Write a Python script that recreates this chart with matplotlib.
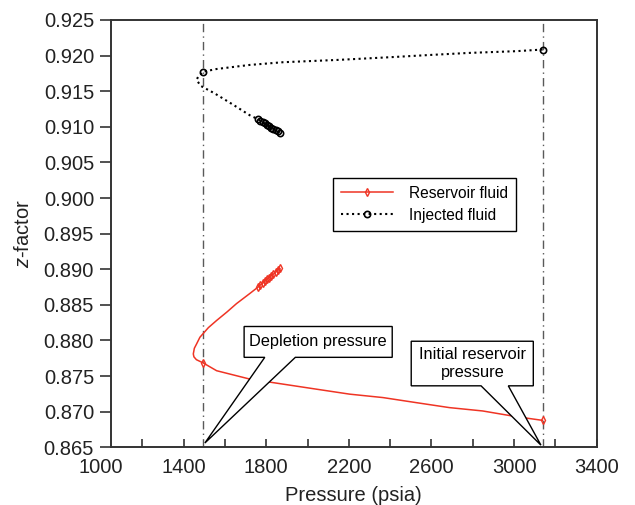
import matplotlib
matplotlib.use("Agg")
import matplotlib.pyplot as plt
from matplotlib.patches import Polygon
from matplotlib.lines import Line2D
import numpy as np

plt.rcParams['font.family'] = ['Liberation Sans', 'DejaVu Sans']
plt.rcParams['mathtext.fontset'] = 'custom'
plt.rcParams['mathtext.rm'] = 'Liberation Sans'
plt.rcParams['mathtext.it'] = 'Liberation Sans:italic'

# ---- data ----
res_p = [3138, 3010, 2848, 2687, 2526, 2365, 2204, 2043, 1881, 1720, 1560, 1495,
         1462, 1450, 1447, 1452, 1463, 1479, 1520, 1560, 1610, 1656, 1720,
         1761, 1772, 1783, 1793, 1803, 1814, 1824, 1835, 1845, 1856, 1866]
res_z = [0.86878, 0.86930, 0.87010, 0.87057, 0.87127, 0.87198, 0.87246, 0.87316, 0.87387,
         0.87458, 0.87575, 0.87684,
         0.87730, 0.87770, 0.87811, 0.87890, 0.87952, 0.88045, 0.88180, 0.88281, 0.88400,
         0.88517, 0.88658,
         0.88751, 0.88780, 0.88805, 0.88830, 0.88858, 0.88882, 0.88908, 0.88932, 0.88958,
         0.88985, 0.89011]
res_marks = [0, 11] + list(range(23, 34))

inj_p = [3138, 3010, 2784, 2600, 2397, 2150, 1881, 1720, 1560, 1495,
         1470, 1463, 1482, 1550, 1640, 1720,
         1761, 1772, 1783, 1793, 1803, 1814, 1824, 1835, 1845, 1856, 1866]
inj_z = [0.92085, 0.92062, 0.92038, 0.92010, 0.91977, 0.91940, 0.91907, 0.91869, 0.91812,
         0.91774,
         0.91700, 0.91661, 0.91576, 0.91470, 0.91310, 0.91163,
         0.91106, 0.91085, 0.91066, 0.91047, 0.91028, 0.91009, 0.90990, 0.90971, 0.90953,
         0.90935, 0.90918]
inj_marks = [0, 9] + list(range(16, 27))

depletion_p = 1495
initial_p = 3138

x_major = [1400, 1800, 2200, 2600, 3000, 3400]
x_minor = [1200, 1600, 2000, 2400, 2800, 3200]
y_ticks = np.arange(0.865, 0.9251, 0.005)

red = '#ef3424'
axc = '#333333'

fig = plt.figure(figsize=(6.35, 5.05), dpi=100)
ax = fig.add_axes([0.1743, 0.1143, 0.7654, 0.8461])

ax.axvline(depletion_p, color='0.35', lw=1.0, ls=(0, (6, 3, 1, 3)), zorder=1)
ax.axvline(initial_p, color='0.35', lw=1.0, ls=(0, (6, 3, 1, 3)), zorder=1)

ax.plot(res_p, res_z, color=red, lw=1.1, marker='d', ms=4, mfc='none', mec=red,
        mew=1.0, markevery=res_marks, zorder=3)
ax.plot(inj_p, inj_z, color='black', lw=1.5, ls=':', marker='o', ms=4.5, mfc='none',
        mec='black', mew=1.2, markevery=inj_marks, zorder=3)

ax.set_xlim(1047, 3400)
ax.set_ylim(0.865, 0.925)
ax.set_xticks(x_major)
ax.set_xticks(x_minor, minor=True)
ax.set_yticks(y_ticks)
ax.set_yticklabels([f'{v:.3f}' for v in y_ticks])

ax.tick_params(axis='x', which='both', direction='in', length=6, width=1.2,
               color=axc, labelsize=14.5, labelcolor='#222222', pad=8)
ax.tick_params(axis='y', which='both', direction='out', length=8, width=1.2,
               color=axc, labelsize=14.5, labelcolor='#222222', pad=4)
for s in ax.spines.values():
    s.set_color(axc)
    s.set_linewidth(1.4)

lbl = ax.xaxis.get_majorticklabels()[0]
ax.text(1000, 0, '1000', transform=lbl.get_transform(), ha=lbl.get_ha(),
        va=lbl.get_va(), fontsize=14.5, color='#222222', clip_on=False)

ax.set_xlabel('Pressure (psia)', fontsize=14.5, color='#222222', labelpad=6)
ax.set_ylabel(r'$\mathit{z}$-factor', fontsize=14.5, color='#222222', labelpad=8)

handles = [Line2D([], [], color=red, lw=1.1, marker='d', ms=4, mfc='none', mec=red),
           Line2D([], [], color='black', lw=1.5, ls=':', marker='o', ms=4.5, mfc='none',
                  mec='black', mew=1.2)]
leg = ax.legend(handles, ['Reservoir fluid', 'Injected fluid'], loc='upper left',
                bbox_to_anchor=(0.457, 0.630), borderaxespad=0, fontsize=11.2,
                frameon=True, fancybox=False, edgecolor='black', framealpha=1,
                borderpad=0.5, handlelength=3.4, handletextpad=1.0, labelspacing=0.45)
leg.get_frame().set_linewidth(1.0)

# callout balloons
def balloon(left, right, top, bottom, gl, gr, tip, text, tx, ty):
    verts = [(left, top), (right, top), (right, bottom), (gr, bottom), tip,
             (gl, bottom), (left, bottom)]
    ax.add_patch(Polygon(verts, closed=True, facecolor='white', edgecolor='black',
                         lw=1.0, zorder=5, clip_on=False))
    ax.text(tx, ty, text, ha='center', va='center', fontsize=11.8, zorder=6,
            linespacing=1.3)

balloon(1693, 2410, 0.88196, 0.87763, 1793, 1941, (1503, 0.8656),
        'Depletion pressure', 2051, 0.87979)
balloon(2502, 3093, 0.87989, 0.87363, 2840, 2972, (3130, 0.8653),
        'Initial reservoir\npressure', 2798, 0.87675)

fig.savefig('out.png', dpi=100)
